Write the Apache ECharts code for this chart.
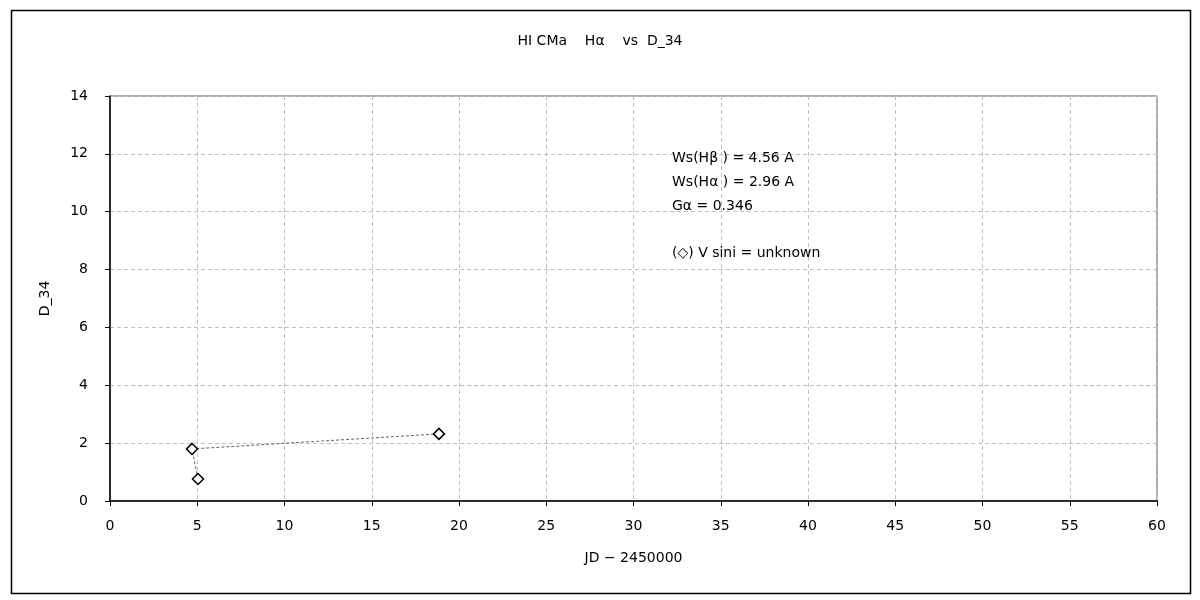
<!DOCTYPE html>
<html><head><meta charset="utf-8">
<script src="https://cdn.jsdelivr.net/npm/echarts@6/dist/echarts.min.js"></script>
<style>html,body{margin:0;padding:0;background:#fff}#c{width:1200px;height:600px}</style>
</head><body><div id="c"></div>
<script>
const jd = [5.04, 4.70, 18.85];
const d34 = [0.76, 1.80, 2.32];
const xTicks = [0,5,10,15,20,25,30,35,40,45,50,55,60];
const yTicks = [0,2,4,6,8,10,12,14];
const titleText = 'HI CMa    H\u03b1    vs  D_34';
const noteLines = ['Ws(H\u03b2 ) = 4.56 A', 'Ws(H\u03b1 ) = 2.96 A', 'G\u03b1 = 0.346', '', '(\u25c7) V sini = unknown'];
const FONT = '"DejaVu Sans", "Noto Sans CJK JP", sans-serif';
const chart = echarts.init(document.getElementById('c'));
chart.setOption({
  animation: false,
  backgroundColor: '#fff',
  title: { text: titleText, left: 'center', top: 29, textStyle: { fontFamily: FONT, fontSize: 14, fontWeight: 'normal', color: '#000' } },
  grid: { left: 110, right: 43, top: 96, bottom: 99, show: true, borderColor: '#555', borderWidth: 1 },
  xAxis: {
    type: 'value', min: xTicks[0], max: xTicks[xTicks.length-1], interval: 5,
    name: 'JD \u2212 2450000', nameLocation: 'middle', nameGap: 50,
    nameTextStyle: { fontFamily: FONT, fontSize: 14, color: '#000' },
    axisLine: { show: true, lineStyle: { color: '#000', width: 1.5 } },
    axisTick: { show: true, inside: false, length: 5, lineStyle: { color: '#000' } },
    axisLabel: { fontFamily: FONT, fontSize: 14, color: '#000', margin: 18 },
    splitLine: { show: true, lineStyle: { color: '#c0c0c0', type: [4, 3] } }
  },
  yAxis: {
    type: 'value', min: yTicks[0], max: yTicks[yTicks.length-1], interval: 2,
    name: 'D_34', nameLocation: 'middle', nameGap: 58, nameRotate: 90,
    nameTextStyle: { fontFamily: FONT, fontSize: 14, color: '#000' },
    axisLine: { show: true, lineStyle: { color: '#000', width: 1.5 } },
    axisTick: { show: true, inside: false, length: 5, lineStyle: { color: '#000' } },
    axisLabel: { fontFamily: FONT, fontSize: 14, color: '#000', margin: 22 },
    splitLine: { show: true, lineStyle: { color: '#c0c0c0', type: [4, 3] } }
  },
  graphic: [
    { type: 'rect', left: 9, top: 8, shape: { width: 1179, height: 583 }, style: { fill: 'none', stroke: '#000', lineWidth: 1.5 }, z: 100 },
    { type: 'text', left: 672, top: 147, style: { text: noteLines.join('\n'), font: '14px ' + FONT, fill: '#000', lineHeight: 23.7 }, z: 100 }
  ],
  series: [{
    type: 'line',
    data: jd.map((x, i) => [x, d34[i]]),
    symbol: 'diamond', symbolSize: [11, 11],
    itemStyle: { color: '#fff', borderColor: '#000', borderWidth: 1.5 },
    lineStyle: { color: '#666', width: 1, type: [3, 2] }
  }]
});
</script></body></html>
